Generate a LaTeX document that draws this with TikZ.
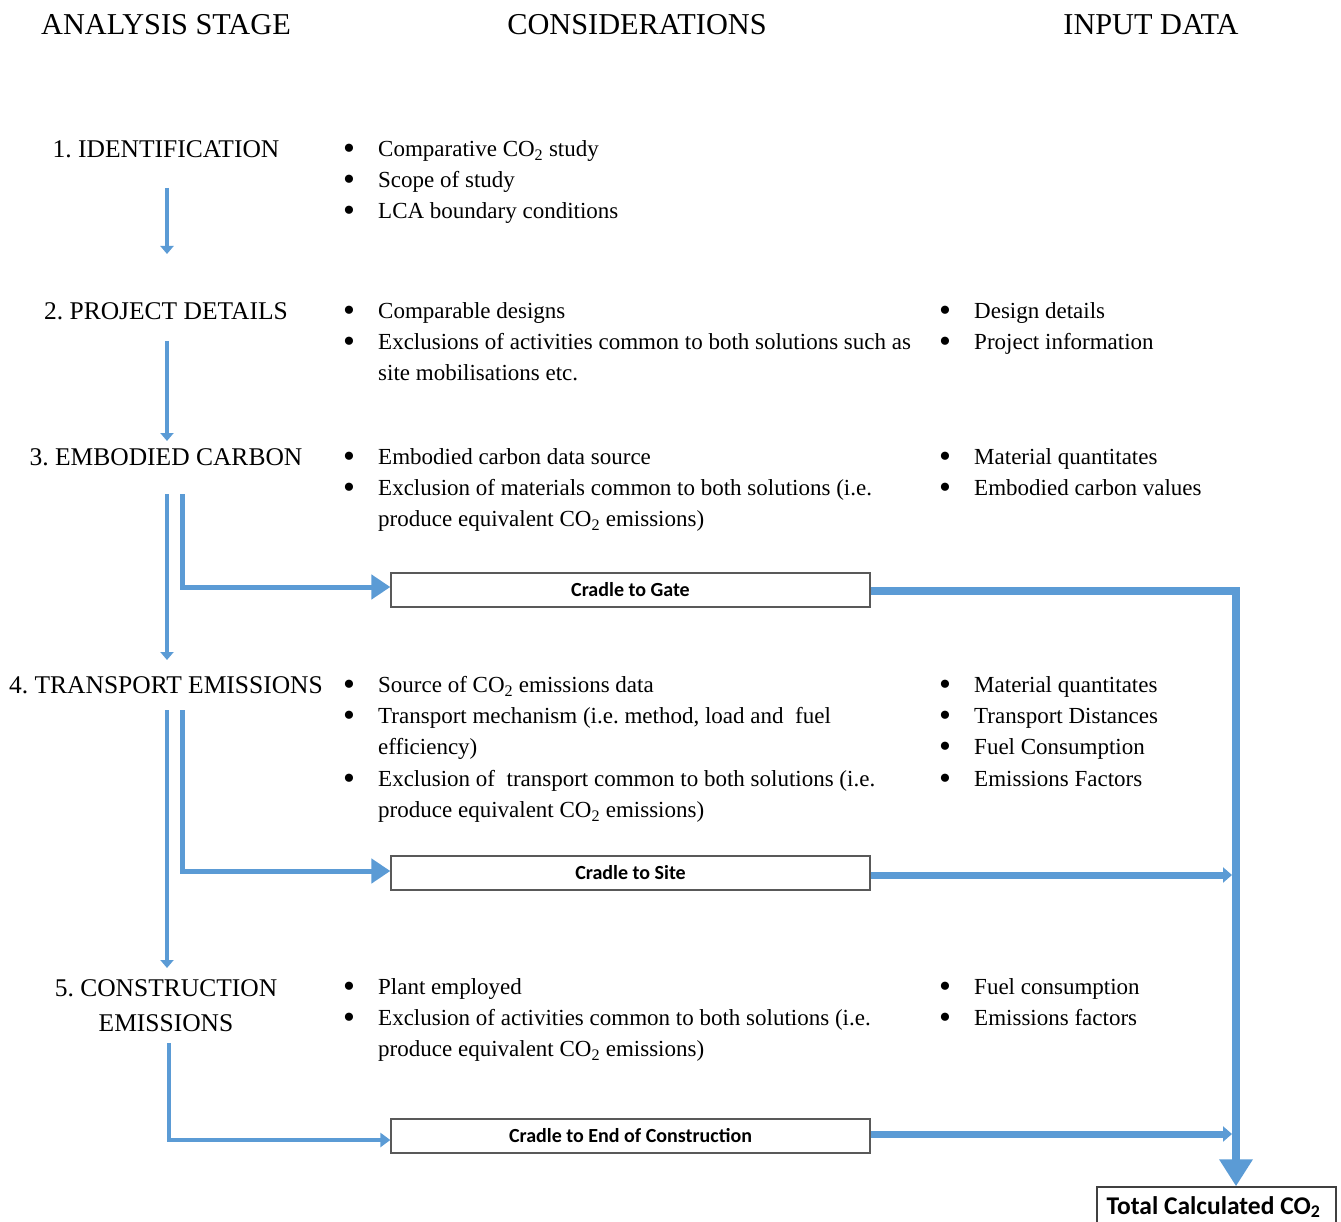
\documentclass[tikz,border=0pt]{standalone}
\usepackage{fontspec}
\setmainfont{Liberation Serif}
\newfontfamily\boxfont{Carlito}
\usetikzlibrary{arrows.meta}
\definecolor{flow}{HTML}{5B9BD5}
\newcommand{\cotwo}{CO\textsubscript{2}}
\frenchspacing
\tikzset{
  txt/.style={anchor=mid west, inner sep=0pt, yshift=-4.5pt, font=\fontsize{23}{28}\selectfont},
  bul/.style={anchor=center, inner sep=0pt, yshift=-2pt, font=\fontsize{34}{34}\selectfont},
  stage/.style={inner sep=0pt, yshift=-4.5pt, font=\fontsize{25.5}{35}\selectfont, align=center},
  head/.style={anchor=mid, inner sep=0pt, yshift=-7pt, font=\fontsize{30.3}{35}\selectfont},
  cbox/.style={draw=black!65, line width=1.3pt, minimum width=479pt, minimum height=34pt,
    inner sep=0pt, fill=white, font=\boxfont\bfseries\fontsize{20}{22}\selectfont},
  tbox/.style={draw=black!75, line width=1.5pt, minimum width=239pt, minimum height=40pt,
    inner sep=0pt, fill=white, font=\boxfont\bfseries\fontsize{25.5}{28}\selectfont},
  varr/.style={draw=flow, line width=4.5pt, -{Triangle[width=13pt,length=8pt]}},
  barr/.style={draw=flow, line width=5pt, -{Triangle[width=24pt,length=19pt]}},
  barrs/.style={draw=flow, line width=4.5pt, -{Triangle[width=14pt,length=10pt]}},
  rarr/.style={draw=flow, line width=7pt, -{Triangle[width=15pt,length=9pt]}},
  rbig/.style={draw=flow, line width=8pt, -{Triangle[width=32pt,length=27pt]}},
}
\newcommand{\bitem}[4]{\node[bul, name=#1b] at (#2-29,#3) {•};\node[txt, name=#1] at (#2,#3) {#4};}
\begin{document}
\begin{tikzpicture}[x=1pt,y=-1pt]
\useasboundingbox (0,0) rectangle (1341,1222);
\clip (0,0) rectangle (1341,1222);

% headings
\node[head] (h1) at (166,25) {ANALYSIS STAGE};
\node[head] (h2) at (637,25) {CONSIDERATIONS};
\node[head] (h3) at (1151,25) {INPUT DATA};

% stages
\node[stage, anchor=mid] (s1) at (166,151) {1. IDENTIFICATION};
\node[stage, anchor=mid] (s2) at (166,313) {2. PROJECT DETAILS};
\node[stage, anchor=mid] (s3) at (166,459) {3. EMBODIED CARBON};
\node[stage, anchor=mid] (s4) at (166,687) {4. TRANSPORT EMISSIONS};
\node[stage, anchor=center] (s5) at (166,1001) {5. CONSTRUCTION\\EMISSIONS};

% considerations
\bitem{c11}{378}{150}{Comparative \cotwo{} study}
\bitem{c12}{378}{181}{Scope of study}
\bitem{c13}{378}{212}{LCA boundary conditions}

\bitem{c21}{378}{312}{Comparable designs}
\bitem{c22}{378}{343}{Exclusions of activities common to both solutions such as}
\node[txt] (c22b2) at (378,374) {site mobilisations etc.};

\bitem{c31}{378}{458}{Embodied carbon data source}
\bitem{c32}{378}{489}{Exclusion of materials common to both solutions (i.e.}
\node[txt] (c32b2) at (378,520) {produce equivalent \cotwo{} emissions)};

\bitem{c41}{378}{686}{Source of \cotwo{} emissions data}
\bitem{c42}{378}{717}{Transport mechanism (i.e. method, load and\ \ fuel}
\node[txt] (c42b2) at (378,748) {efficiency)};
\bitem{c43}{378}{780}{Exclusion of\ \ transport common to both solutions (i.e.}
\node[txt] (c43b2) at (378,811) {produce equivalent \cotwo{} emissions)};

\bitem{c51}{378}{988}{Plant employed}
\bitem{c52}{378}{1019}{Exclusion of activities common to both solutions (i.e.}
\node[txt] (c52b2) at (378,1050) {produce equivalent \cotwo{} emissions)};

% input data
\bitem{i21}{974}{312}{Design details}
\bitem{i22}{974}{343}{Project information}
\bitem{i31}{974}{458}{Material quantitates}
\bitem{i32}{974}{489}{Embodied carbon values}
\bitem{i41}{974}{686}{Material quantitates}
\bitem{i42}{974}{717}{Transport Distances}
\bitem{i43}{974}{748}{Fuel Consumption}
\bitem{i44}{974}{780}{Emissions Factors}
\bitem{i51}{974}{988}{Fuel consumption}
\bitem{i52}{974}{1019}{Emissions factors}

% boxes
\node[cbox] (gate) at (630.5,590) {Cradle to Gate};
\node[cbox] (site) at (630.5,873) {Cradle to Site};
\node[cbox] (end)  at (630.5,1136) {Cradle to End of Construction};
\node[tbox] (total) at (1216.5,1207) {\hspace{-6pt}Total Calculated \cotwo};

% anchor coordinates for connectors
\coordinate (a1s) at (167,188);  \coordinate (a1e) at (167,254);
\coordinate (a2s) at (167,341);  \coordinate (a2e) at (167,441);
\coordinate (a3s) at (167,494);  \coordinate (a3e) at (167,660);
\coordinate (a4s) at (167,710);  \coordinate (a4e) at (167,968);
\coordinate (b3s) at (182,494);
\coordinate (b4s) at (182,710);
\coordinate (b5s) at (169,1043);
\coordinate (jn) at (1236,0);

% vertical stage arrows
\draw[varr] (a1s) -- (a1e);
\draw[varr] (a2s) -- (a2e);
\draw[varr] (a3s) -- (a3e);
\draw[varr] (a4s) -- (a4e);

% branch arrows to boxes
\draw[barr] (b3s) |- ([yshift=3pt]gate.west);
\draw[barr] (b4s) |- ([yshift=2pt]site.west);
\draw[barrs] (b5s) |- ([yshift=-4pt]end.west);

% right side collectors
\draw[rbig] ([yshift=-1pt]gate.east) -| (jn |- total.north);
\draw[rarr, shorten >=4pt] ([yshift=-2pt]site.east) -- ([yshift=-2pt]jn |- site.east);
\draw[rarr, shorten >=4pt] ([yshift=2pt]end.east) -- ([yshift=2pt]jn |- end.east);
\end{tikzpicture}
\end{document}
